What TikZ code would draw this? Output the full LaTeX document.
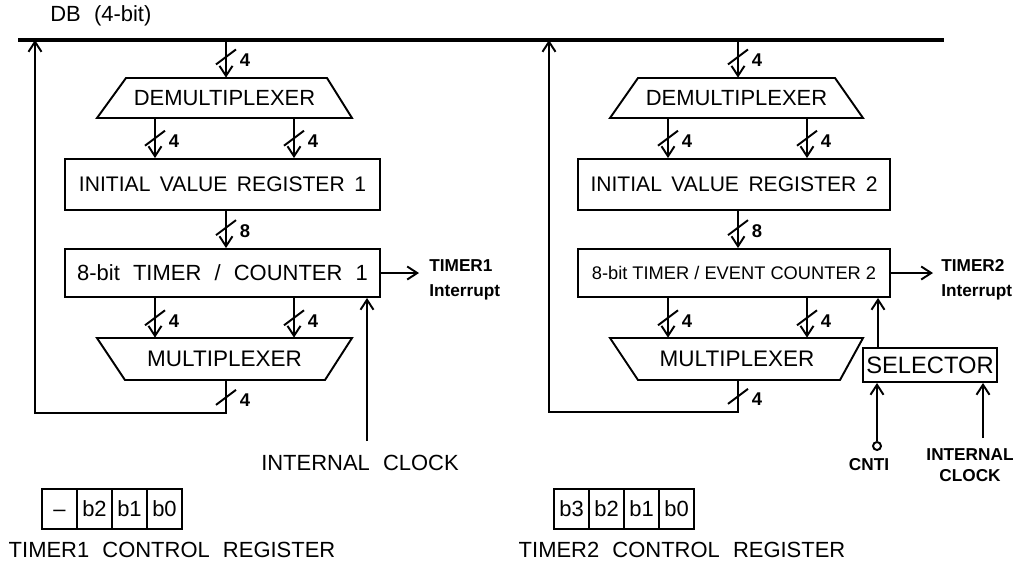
\documentclass[tikz,border=0pt]{standalone}
\usepackage{fontspec}
\setmainfont{Liberation Sans}
\usetikzlibrary{arrows.meta,calc}
\tikzset{
  ln/.style={line width=1.1pt},
  arr/.style={ln, -{Straight Barb[length=0.2cm,width=0.26cm,line width=1.1pt]}},
  bus/.style={line width=2.8pt},
  box/.style={draw, ln, inner sep=0pt, align=center},
  lbl/.style={inner sep=0pt, font=\fontsize{12.5}{14}\selectfont},
  small/.style={inner sep=0pt, font=\bfseries\fontsize{9.8}{14}\selectfont},
  num/.style={inner sep=0pt, font=\bfseries\fontsize{10.5}{12}\selectfont},
  cell/.style={draw, ln, minimum width=35*0.02cm, minimum height=40*0.02cm, inner sep=0pt, font=\fontsize{12.5}{14}\selectfont},
  trap/.style={ln, line join=miter},
  wide/.style={font=\fontsize{12}{14}\selectfont},
  wider/.style={font=\fontsize{12.5}{14}\selectfont},
}
\newcommand\ws{\hspace{0.45em}}
\newcommand\wws{\hspace{0.6em}}
\newcommand\bsl[2]{\draw[ln] ($(#1)+(-10,7.5)$) -- ($(#1)+(10,-7.5)$); \node[num] at ($(#1)+(19,3)$) {#2};}
\begin{document}
\begin{tikzpicture}[x=0.02cm,y=-0.02cm]
\useasboundingbox (0,0) rectangle (1024,562);
% bus
\coordinate (busL) at (18,40);
\coordinate (busR) at (944,40);
\draw[bus] (busL) -- (busR);
\node[lbl, anchor=west] (db) at (50,16) {DB\wws(4-bit)};

% ================= TIMER 1 =================
\draw[trap] (126,78) -- (327,78) -- (352,118) -- (97,118) -- cycle;
\node[lbl, minimum width=255*0.02cm, minimum height=40*0.02cm] (demA) at (224.5,98) {DEMULTIPLEXER};
\node[box, wide, minimum width=315*0.02cm, minimum height=51*0.02cm] (ivrA) at (222.5,184.5) {INITIAL\ws VALUE\ws REGISTER\ws 1};
\node[box, wider, minimum width=315*0.02cm, minimum height=48*0.02cm] (tmrA) at (222.5,273) {8-bit\wws TIMER\wws /\wws COUNTER\wws 1};
\draw[trap] (97,338) -- (352,338) -- (325,380) -- (125,380) -- cycle;
\node[lbl, font=\fontsize{12.8}{14}\selectfont, minimum width=255*0.02cm, minimum height=42*0.02cm] (muxA) at (224.5,359) {MULTIPLEXER};

\coordinate (xA0) at (226,0);
\coordinate (xA1) at (155,0);
\coordinate (xA2) at (294,0);
\coordinate (fbA) at (35,413);

\draw[arr] (busL -| xA0) -- coordinate[pos=.45] (s) (demA.north -| xA0); \bsl{s}{4}
\draw[arr] (demA.south -| xA1) -- coordinate[pos=.5] (s) (ivrA.north -| xA1); \bsl{s}{4}
\draw[arr] (demA.south -| xA2) -- coordinate[pos=.5] (s) (ivrA.north -| xA2); \bsl{s}{4}
\draw[arr] (ivrA.south -| xA0) -- coordinate[pos=.45] (s) (tmrA.north -| xA0); \bsl{s}{8}
\draw[arr] (tmrA.south -| xA1) -- coordinate[pos=.5] (s) (muxA.north -| xA1); \bsl{s}{4}
\draw[arr] (tmrA.south -| xA2) -- coordinate[pos=.5] (s) (muxA.north -| xA2); \bsl{s}{4}
\draw[arr] (muxA.south -| xA0) |- (fbA) -- (busL -| fbA);
\coordinate (s) at ($(muxA.south -| xA0)+(0,17)$); \bsl{s}{4}

\node[small, anchor=west, align=left] (intA) at (429,280) {TIMER1\\Interrupt};
\coordinate (intAend) at (419,0);
\draw[arr] (tmrA.east) -- (tmrA.east -| intAend);

\coordinate (clkAin) at (367,441);
\draw[arr] (clkAin) -- (tmrA.south -| clkAin);
\node[lbl] (clkA) at (360,463) {INTERNAL\wws CLOCK};

\node[cell] (a3) at (59.5,509) {\vphantom{b2}\textendash};
\node[cell] (a2) at (94.5,509) {b2};
\node[cell] (a1) at (129.5,509) {b1};
\node[cell] (a0) at (164.5,509) {b0};
\node[lbl] (crA) at (172,550) {TIMER1\wws CONTROL\wws REGISTER};

% ================= TIMER 2 =================
\draw[trap] (638,78) -- (835,78) -- (863,118) -- (610,118) -- cycle;
\node[lbl, minimum width=253*0.02cm, minimum height=40*0.02cm] (demB) at (736.5,98) {DEMULTIPLEXER};
\node[box, wide, minimum width=312*0.02cm, minimum height=51*0.02cm] (ivrB) at (734,184.5) {INITIAL\ws VALUE\ws REGISTER\ws 2};
\node[box, font=\fontsize{10.4}{12}\selectfont, minimum width=312*0.02cm, minimum height=48*0.02cm] (tmrB) at (734,273) {8-bit TIMER / EVENT COUNTER 2};
\draw[trap] (610,338) -- (863,338) -- (840,380) -- (638,380) -- cycle;
\node[lbl, font=\fontsize{12.8}{14}\selectfont, minimum width=253*0.02cm, minimum height=42*0.02cm] (muxB) at (737,359) {MULTIPLEXER};

\coordinate (xB0) at (738,0);
\coordinate (xB1) at (668,0);
\coordinate (xB2) at (807,0);
\coordinate (fbB) at (549,412);

\draw[arr] (busL -| xB0) -- coordinate[pos=.45] (s) (demB.north -| xB0); \bsl{s}{4}
\draw[arr] (demB.south -| xB1) -- coordinate[pos=.5] (s) (ivrB.north -| xB1); \bsl{s}{4}
\draw[arr] (demB.south -| xB2) -- coordinate[pos=.5] (s) (ivrB.north -| xB2); \bsl{s}{4}
\draw[arr] (ivrB.south -| xB0) -- coordinate[pos=.45] (s) (tmrB.north -| xB0); \bsl{s}{8}
\draw[arr] (tmrB.south -| xB1) -- coordinate[pos=.5] (s) (muxB.north -| xB1); \bsl{s}{4}
\draw[arr] (tmrB.south -| xB2) -- coordinate[pos=.5] (s) (muxB.north -| xB2); \bsl{s}{4}
\draw[arr] (muxB.south -| xB0) |- (fbB) -- (busL -| fbB);
\coordinate (s) at ($(muxB.south -| xB0)+(0,16)$); \bsl{s}{4}

\node[small, anchor=west, align=left] (intB) at (941,280) {TIMER2\\Interrupt};
\coordinate (intBend) at (933,0);
\draw[arr] (tmrB.east) -- (tmrB.east -| intBend);

\node[box, font=\fontsize{13.5}{14}\selectfont, minimum width=134*0.02cm, minimum height=34*0.02cm] (sel) at (930,365) {SELECTOR};
\coordinate (xS) at (878,0);
\draw[arr] (sel.north -| xS) -- (tmrB.south -| xS);

\node[draw, ln, circle, inner sep=0pt, minimum size=8*0.02cm] (cnti) at (877,446) {};
\draw[arr] (cnti.north) -- (sel.south -| cnti);
\node[small] (cntiL) at (869,465) {CNTI};

\coordinate (clkBin) at (983,438);
\draw[arr] (clkBin) -- (sel.south -| clkBin);
\node[small, align=center, font=\bfseries\fontsize{9.8}{11.8}\selectfont] (clkB) at (970,465) {INTERNAL\\CLOCK};

\node[cell] (b3) at (571.5,509) {b3};
\node[cell] (b2) at (606.5,509) {b2};
\node[cell] (b1) at (641.5,509) {b1};
\node[cell] (b0) at (676.5,509) {b0};
\node[lbl] (crB) at (682,550) {TIMER2\wws CONTROL\wws REGISTER};
\end{tikzpicture}
\end{document}
